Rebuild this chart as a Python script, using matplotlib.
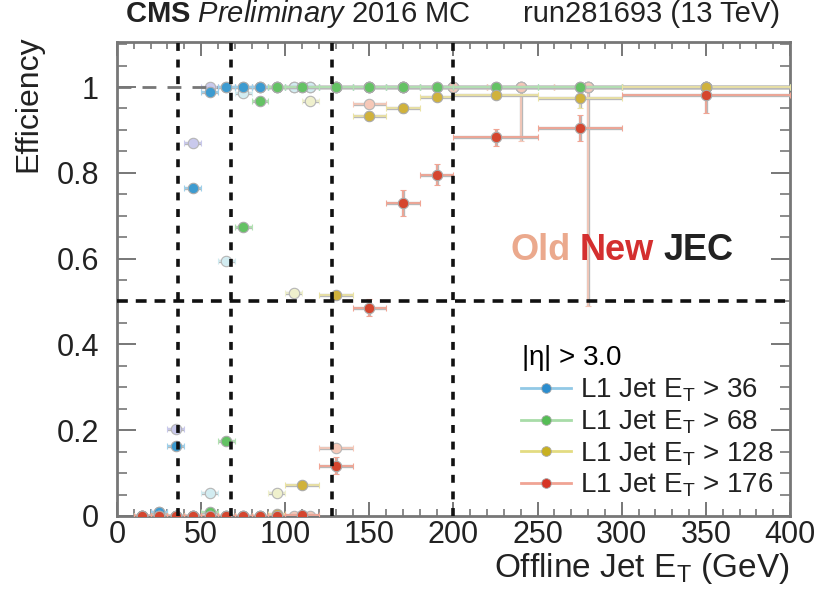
import numpy as np
import matplotlib
matplotlib.use('Agg')
import matplotlib.pyplot as plt
import matplotlib.patheffects as pe
from matplotlib.lines import Line2D

plt.rcParams['font.family'] = ['Liberation Sans', 'DejaVu Sans']
plt.rcParams['mathtext.fontset'] = 'custom'
plt.rcParams['mathtext.rm'] = 'Liberation Sans'
plt.rcParams['mathtext.it'] = 'Liberation Sans:italic'
plt.rcParams['mathtext.bf'] = 'Liberation Sans:bold'
plt.rcParams['mathtext.default'] = 'regular'

# binning (GeV)
new_edges = np.array([10, 20, 30, 40, 50, 60, 70, 80, 90, 100, 120, 140, 160, 180, 200, 250, 300, 400])
old_edges = np.array([10, 20, 30, 40, 50, 60, 70, 80, 90, 100, 110, 120, 140, 160, 180, 220, 260, 300, 400])

labels = ['L1 Jet E$_T$ > 36', 'L1 Jet E$_T$ > 68', 'L1 Jet E$_T$ > 128', 'L1 Jet E$_T$ > 176']
turnon_lines = [36, 68, 128, 200]

# efficiencies, new JEC
blue_new = [0.0, 0.01, 0.162, 0.765, 0.988, 1, 1, 1, 1, 1, 1, 1, 1, 1, 1, 1, 1]
green_new = [0, 0, 0, 0, 0.01, 0.175, 0.674, 0.967, 1, 1, 1, 1, 1, 1, 1, 1, 1]
yellow_new = [0, 0, 0, 0, 0, 0, 0, 0, 0.005, 0.072, 0.515, 0.933, 0.950, 0.977, 0.981, 0.974, 1.0]
red_new = [0, 0, 0, 0, 0, 0, 0, 0, 0, 0.003, 0.117, 0.486, 0.729, 0.796, 0.883, 0.904, 0.981]

# efficiencies, old JEC
blue_old = [0, 0.01, 0.202, 0.869, 1.0, 1, 1, 1, 1, 1, 1, 1, 1, 1, 1, 1, 1, 1]
green_old = [0, 0, 0, 0, 0.053, 0.594, 0.986, 1, 1, 1, 1, 1, 1, 1, 1, 1, 1, 1]
yellow_old = [0, 0, 0, 0, 0, 0, 0, 0, 0.054, 0.52, 0.968, 1, 1, 1, 1, 1, 1, 1]
red_old = [0, 0, 0, 0, 0, 0, 0, 0, 0, 0, 0, 0.159, 0.96, 1, 1, 1, 1, 1]

# vertical errors (low, high)
red_new_lo = [0, 0, 0, 0, 0, 0, 0, 0, 0, 0.004, 0.02, 0.02, 0.03, 0.025, 0.02, 0.03, 0.042]
red_new_hi = [0, 0, 0, 0, 0, 0, 0, 0, 0, 0.006, 0.02, 0.02, 0.03, 0.025, 0.02, 0.03, 0.016]
yellow_new_lo = [0, 0, 0, 0, 0, 0, 0, 0, 0, 0.01, 0.01, 0.01, 0.01, 0.008, 0.006, 0.023, 0]
yellow_new_hi = [0, 0, 0, 0, 0, 0, 0, 0, 0, 0.01, 0.01, 0.01, 0.01, 0.008, 0.006, 0.01, 0]
red_old_lo = [0, 0, 0, 0, 0, 0, 0, 0, 0, 0, 0, 0.01, 0.01, 0, 0, 0.125, 0.51, 0]

new_colors = ['#3d9bd0', '#64c264', '#d0b23c', '#d5462f']
new_ecolors = ['#9fd0ea', '#b2e2b2', '#ebe3a4', '#f1a594']
old_colors = ['#c9c9ec', '#d2ecf1', '#eff0cd', '#f6c8b8']
leg_lines = ['#92c9e6', '#a8dca8', '#e3dc82', '#f0a494']
leg_dots = ['#2b8dce', '#55bd55', '#c8b020', '#d63424']

new_x = (new_edges[:-1] + new_edges[1:]) / 2
new_xe = (new_edges[1:] - new_edges[:-1]) / 2
old_x = (old_edges[:-1] + old_edges[1:]) / 2
old_xe = (old_edges[1:] - old_edges[:-1]) / 2

zero17 = [0] * 17
zero18 = [0] * 18
new_sets = [(blue_new, zero17, zero17), (green_new, zero17, zero17),
            (yellow_new, yellow_new_lo, yellow_new_hi), (red_new, red_new_lo, red_new_hi)]
old_sets = [(blue_old, zero18), (green_old, zero18), (yellow_old, zero18), (red_old, red_old_lo)]

fig = plt.figure(figsize=(8.14, 5.89), dpi=100)
ax = fig.add_axes([0.1437, 0.124, 0.8268, 0.8047])

outline = [pe.Stroke(linewidth=2.4, foreground='#b8b8b8'), pe.Normal()]

# old JEC (pale)
for i, (vals, lo) in enumerate(old_sets):
    eb = ax.errorbar(old_x, vals, xerr=old_xe, yerr=[lo, zero18], fmt='o', ms=7.5,
                     color=old_colors[i], mec='#b5b5b5', mew=0.8, elinewidth=1.3,
                     capsize=2.5, capthick=1.2, zorder=2)
    for ln in eb.lines[2]:
        ln.set_path_effects(outline)

# new JEC
for i, (vals, lo, hi) in enumerate(new_sets):
    eb = ax.errorbar(new_x, vals, xerr=new_xe, yerr=[lo, hi], fmt='o', ms=7.5,
                     color=new_colors[i], ecolor=new_ecolors[i], mec='#aaaaaa', mew=0.8,
                     elinewidth=1.3, capsize=2.5, capthick=1.2, zorder=3)
    for ln in eb.lines[2]:
        ln.set_path_effects(outline)

# reference lines
ax.axhline(1.0, color='#777777', lw=2, ls=(0, (5, 4)), zorder=2.5)
ax.axhline(0.5, color='#111111', lw=2.6, ls=(0, (3, 2.2)), zorder=4)
for xv in turnon_lines:
    ax.axvline(xv, color='#111111', lw=2.6, ls=(0, (2.2, 2.4)), zorder=4)

ax.set_xlim(0, 400)
ax.set_ylim(0, 1.105)
ax.set_xticks(np.arange(0, 401, 50))
ax.set_xticks(np.arange(0, 401, 10), minor=True)
ax.set_yticks([0, 0.2, 0.4, 0.6, 0.8, 1.0])
ax.set_yticklabels(['0', '0.2', '0.4', '0.6', '0.8', '1'])
ax.set_yticks(np.arange(0, 1.101, 0.05), minor=True)

ax.tick_params(axis='both', which='both', direction='in', top=True, right=True,
               color='#777777', labelsize=22, labelcolor='#222222')
ax.tick_params(axis='x', which='major', length=10, width=1.4, pad=3)
ax.tick_params(axis='x', which='minor', length=5, width=1.2)
ax.tick_params(axis='y', which='major', length=14, width=1.4, pad=13)
ax.tick_params(axis='y', which='minor', length=7, width=1.2)
for sp in ax.spines.values():
    sp.set_color('#777777')
    sp.set_linewidth(2)

ax.set_xlabel('Offline Jet E$_T$ (GeV)', fontsize=24, color='#222222', ha='right', va='top')
ax.xaxis.set_label_coords(1.0, -0.074)
ax.set_ylabel('Efficiency', fontsize=23, color='#222222', ha='right', va='bottom')
ax.yaxis.set_label_coords(-0.11, 1.015)

fig.text(0.153, 0.962, r'$\bf{CMS}$ $\it{Preliminary}$ 2016 MC', fontsize=21,
         color='#222222', va='baseline')
fig.text(0.958, 0.962, 'run281693 (13 TeV)', fontsize=21, color='#222222',
         ha='right', va='baseline')

t_old = ax.text(0.584, 0.54, 'Old', transform=ax.transAxes, fontsize=26, fontweight='bold',
                color='#eba98d', va='baseline')
t_new = ax.annotate('New', xy=(1, 0), xycoords=t_old, xytext=(7, 0), textcoords='offset points',
                    fontsize=26, fontweight='bold', color='#d42f2f', va='bottom')
ax.annotate('JEC', xy=(1, 0), xycoords=t_new, xytext=(7, 0), textcoords='offset points',
            fontsize=26, fontweight='bold', color='#222222', va='bottom')

handles = [Line2D([0], [0], color=leg_lines[i], lw=2, marker='o', ms=7,
                  mfc=leg_dots[i], mec='#aaaaaa', mew=0.6) for i in range(4)]
leg = ax.legend(handles, labels, title='|$\\eta$| > 3.0', loc='lower right',
                bbox_to_anchor=(1.0, 0.0), frameon=False, fontsize=20, title_fontsize=20,
                handlelength=1.8, handletextpad=0.3, labelspacing=0.15,
                borderaxespad=0.2)
leg._legend_box.align = 'left'
for t in leg.get_texts():
    t.set_color('#222222')

plt.savefig('out.png', dpi=100)
